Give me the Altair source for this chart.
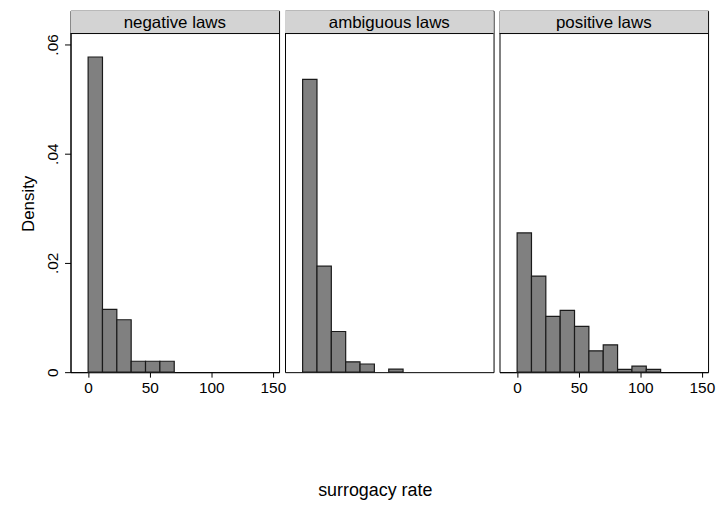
import altair as alt
import pandas as pd

# Histogram of surrogacy rate by legal regime (density scale, common bins)
panel_titles = ["negative laws", "ambiguous laws", "positive laws"]
bin_width = 11.65
bin_lower = [0.0, 11.65, 23.3, 34.95, 46.6, 58.25, 69.9, 81.55, 93.2, 104.85]

negative_density = [0.0577, 0.0115, 0.0096, 0.0020, 0.0020, 0.0020]
ambiguous_density = [0.0536, 0.0194, 0.00745, 0.0019, 0.0015, 0.0, 0.00055]
positive_density = [0.0255, 0.0176, 0.0102, 0.0113, 0.0084, 0.0039, 0.0050,
                    0.0005, 0.0011, 0.0005]

x_ticks = [0, 50, 100, 150]
y_ticks = [0, 0.02, 0.04, 0.06]

FONT = "Liberation Sans"
PANEL_W = 210
PLOT_H = 341          # data region
HEADER_H = 23         # title strip on top of each panel
VIEW_H = PLOT_H + HEADER_H
Y_MAX = 0.062
Y_TOP = Y_MAX * VIEW_H / PLOT_H   # the strip sits above the data region


def panel(title, densities, show_x, show_y):
    df = pd.DataFrame({"lo": bin_lower[:len(densities)], "density": densities})
    df = df[df["density"] > 0].copy()
    df["hi"] = df["lo"] + bin_width
    df["base"] = 0.0

    x_axis = alt.Axis(values=x_ticks, title=None, grid=False, domainColor="black",
                      tickColor="black", tickSize=5, labelFontSize=15.5,
                      labelPadding=3, labelColor="black", labelFont=FONT) if show_x else None
    y_axis = alt.Axis(values=y_ticks, title="Density", grid=False,
                      domainColor="black", tickColor="black", tickSize=6,
                      labelExpr="datum.value == 0 ? '0' : substring(format(datum.value, '.2f'), 1)",
                      labelAngle=270, labelAlign="center", labelBaseline="bottom",
                      labelPadding=4, labelFontSize=15.5, labelColor="black", labelFont=FONT,
                      titleFontSize=17, titleFontWeight="normal", titleColor="black",
                      titleFont=FONT, titlePadding=8, titleY=VIEW_H / 2 + 12) if show_y else None

    bars = alt.Chart(df).mark_bar(
        fill="#808080", stroke="#1a1a1a", strokeWidth=1.2
    ).encode(
        x=alt.X("lo:Q", scale=alt.Scale(domain=[-14.3, 155], nice=False, zero=False),
                axis=x_axis),
        x2="hi:Q",
        y=alt.Y("density:Q", scale=alt.Scale(domain=[0, Y_TOP], nice=False),
                axis=y_axis),
        y2="base:Q",
    )

    head_df = pd.DataFrame({"label": [title]})
    head_bg = alt.Chart(head_df).mark_rect(fill="#d3d3d3").encode(
        x=alt.value(0), x2=alt.value(PANEL_W), y=alt.value(0), y2=alt.value(HEADER_H)
    )
    head_line = alt.Chart(head_df).mark_rule(color="black", strokeWidth=1).encode(
        x=alt.value(0), x2=alt.value(PANEL_W), y=alt.value(HEADER_H)
    )
    head_txt = alt.Chart(head_df).mark_text(
        font=FONT, fontSize=17, color="black", baseline="middle", align="center"
    ).encode(text="label:N", x=alt.value(PANEL_W / 2), y=alt.value(HEADER_H / 2 + 0.5))

    return alt.layer(bars, head_bg, head_line, head_txt).properties(
        width=PANEL_W, height=VIEW_H
    )


chart = alt.hconcat(
    panel(panel_titles[0], negative_density, True, True),
    panel(panel_titles[1], ambiguous_density, False, False),
    panel(panel_titles[2], positive_density, True, False),
    spacing=6,
    bounds="flush",
    title=alt.TitleParams(text="surrogacy rate", orient="bottom", anchor="middle",
                          font=FONT, fontSize=18, fontWeight="normal", color="black",
                          offset=87, dx=8),
).properties(
    padding={"left": 19, "top": 8, "right": 0, "bottom": 5},
    background="white",
).configure(
    font=FONT
).configure_view(
    stroke="black", strokeWidth=1
)

chart.save("out.html", embed_options={"renderer": "svg", "actions": False})
